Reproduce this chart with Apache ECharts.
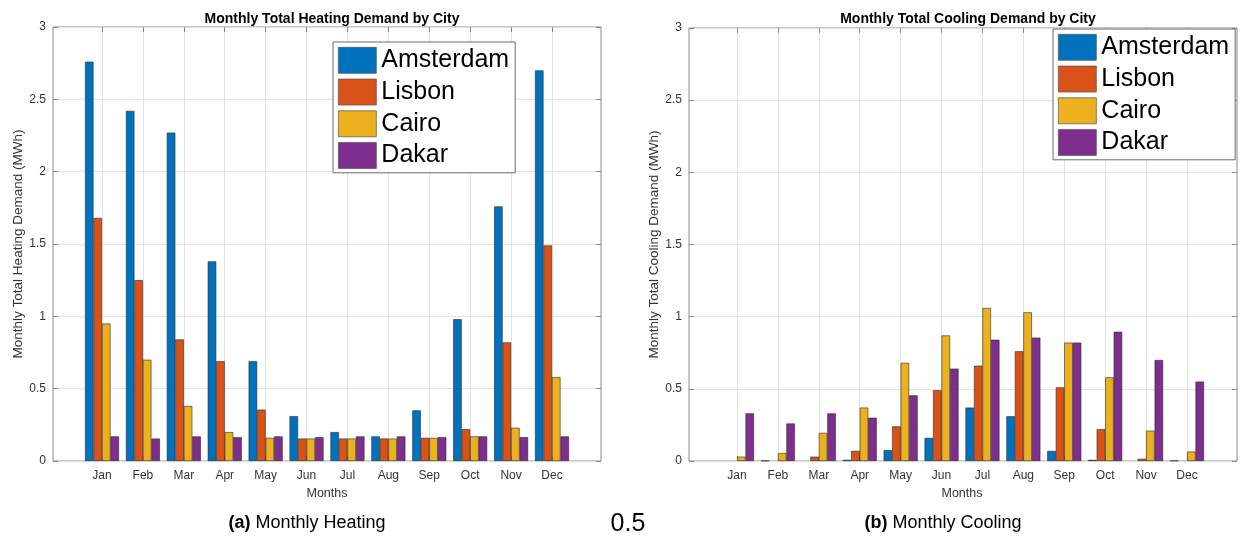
<!DOCTYPE html>
<html>
<head>
<meta charset="utf-8">
<script src="https://cdn.jsdelivr.net/npm/echarts@6/dist/echarts.min.js"></script>
<style>
html,body{margin:0;padding:0;background:#fff;}
#c{width:1244px;height:538px;}
</style>
</head>
<body>
<div id="c"></div>
<script>
const months = ['Jan','Feb','Mar','Apr','May','Jun','Jul','Aug','Sep','Oct','Nov','Dec'];
const cities = ['Amsterdam','Lisbon','Cairo','Dakar'];

// Heating demand (MWh)
const heatAmsterdam = [2.76, 2.42, 2.27, 1.38, 0.69, 0.31, 0.20, 0.17, 0.35, 0.98, 1.76, 2.70];
const heatLisbon    = [1.68, 1.25, 0.84, 0.69, 0.355, 0.155, 0.155, 0.155, 0.16, 0.22, 0.82, 1.49];
const heatCairo     = [0.95, 0.70, 0.38, 0.20, 0.16, 0.155, 0.155, 0.155, 0.16, 0.17, 0.23, 0.58];
const heatDakar     = [0.17, 0.155, 0.17, 0.165, 0.17, 0.165, 0.17, 0.17, 0.165, 0.17, 0.165, 0.17];

// Cooling demand (MWh)
const coolAmsterdam = [0, 0.003, 0, 0.008, 0.075, 0.16, 0.37, 0.31, 0.07, 0.008, 0, 0.003];
const coolLisbon    = [0, 0, 0.03, 0.07, 0.24, 0.49, 0.66, 0.76, 0.51, 0.22, 0.015, 0];
const coolCairo     = [0.03, 0.055, 0.195, 0.37, 0.68, 0.87, 1.06, 1.03, 0.82, 0.58, 0.21, 0.065];
const coolDakar     = [0.33, 0.26, 0.33, 0.30, 0.455, 0.64, 0.84, 0.855, 0.82, 0.895, 0.70, 0.55];

const colors = ['#0072BD', '#D95319', '#EDB120', '#7E2F8E'];
const heatData = [heatAmsterdam, heatLisbon, heatCairo, heatDakar];
const coolData = [coolAmsterdam, coolLisbon, coolCairo, coolDakar];

const FONT = '"Liberation Sans", Arial, Helvetica, sans-serif';
const gridLineColor = '#e3e3e3';
const frameColor = '#8a8a8a';
const textColor = '#333333';

function frameGrid(left, top, height) {
  return {left: left, top: top, width: 548, height: height, show: true, borderColor: frameColor, borderWidth: 1, backgroundColor: 'transparent'};
}
function barGrid(left, top, height) {
  return {left: left, top: top, width: 450, height: height};
}

const grids = [frameGrid(53, 27, 434), barGrid(102, 27, 434), frameGrid(689, 28, 433), barGrid(737, 28, 433)];

function hiddenX(gi) { return {type: 'value', gridIndex: gi, min: 0, max: 1, show: false}; }
function catX(gi, pos, withLabels, name) {
  return {
    type: 'category', gridIndex: gi, position: pos, data: months, boundaryGap: false,
    axisLine: {show: false},
    axisTick: {show: true, inside: true, length: 5, lineStyle: {color: frameColor}},
    axisLabel: {show: withLabels, color: textColor, fontFamily: FONT, fontSize: 12, margin: 9},
    splitLine: {show: withLabels, lineStyle: {color: gridLineColor, width: 1}},
    name: name || '', nameLocation: 'middle', nameGap: 22,
    nameTextStyle: {color: textColor, fontFamily: FONT, fontSize: 12.5}
  };
}
function labY(gi, name) {
  return {
    type: 'value', gridIndex: gi, position: 'left', min: 0, max: 3, interval: 0.5,
    axisLine: {show: false},
    axisTick: {show: true, inside: true, length: 5, lineStyle: {color: frameColor}},
    axisLabel: {color: textColor, fontFamily: FONT, fontSize: 12, margin: 7},
    splitLine: {show: true, lineStyle: {color: gridLineColor, width: 1}},
    name: name, nameLocation: 'middle', nameGap: 27, nameRotate: 90,
    nameTextStyle: {color: textColor, fontFamily: FONT, fontSize: 13.5}
  };
}
function rightY(gi) {
  return {
    type: 'value', gridIndex: gi, position: 'right', min: 0, max: 3, interval: 0.5,
    axisLine: {show: false},
    axisTick: {show: true, inside: true, length: 5, lineStyle: {color: frameColor}},
    axisLabel: {show: false}, splitLine: {show: false}
  };
}
function hiddenY(gi) { return {type: 'value', gridIndex: gi, min: 0, max: 3, interval: 0.5, show: false, splitLine: {show: false}}; }

const xAxes = [hiddenX(0), catX(1, 'bottom', true, 'Months'), catX(1, 'top', false),
               hiddenX(2), catX(3, 'bottom', true, 'Months'), catX(3, 'top', false)];
const yAxes = [labY(0, 'Monthly Total Heating Demand (MWh)'), rightY(0), hiddenY(1),
               labY(2, 'Monthly Total Cooling Demand (MWh)'), rightY(2), hiddenY(3)];

const series = [];
function addSeries(dataSets, xi, yi) {
  dataSets.forEach(function (vals, k) {
    series.push({
      type: 'bar', name: cities[k], xAxisIndex: xi, yAxisIndex: yi,
      data: vals.map(function (v) { return v === 0 ? {value: v, itemStyle: {borderWidth: 0}} : v; }),
      barWidth: 8.5, barGap: '0%', clip: false,
      itemStyle: {color: colors[k], borderColor: '#2a2a2a', borderWidth: 0.6},
      emphasis: {disabled: true}, animation: false
    });
  });
}
addSeries(heatData, 1, 2);
addSeries(coolData, 4, 5);

function legend(left, top) {
  return {
    data: cities, orient: 'vertical', left: left, top: top,
    itemWidth: 38, itemHeight: 26, itemGap: 5, padding: [5, 6, 4, 5],
    backgroundColor: '#ffffff', borderColor: '#6a6a6a', borderWidth: 1,
    itemStyle: {borderWidth: 0.7, borderColor: '#555555'},
    textStyle: {fontFamily: FONT, fontSize: 25, color: '#000'},
    selectedMode: false, icon: 'rect'
  };
}

const option = {
  animation: false,
  backgroundColor: '#ffffff',
  title: [
    {text: 'Monthly Total Heating Demand by City', left: 327, top: 7, textAlign: 'center',
     textStyle: {fontFamily: FONT, fontSize: 14, fontWeight: 'bold', color: '#000'}},
    {text: 'Monthly Total Cooling Demand by City', left: 963, top: 7, textAlign: 'center',
     textStyle: {fontFamily: FONT, fontSize: 14, fontWeight: 'bold', color: '#000'}}
  ],
  grid: grids,
  xAxis: xAxes,
  yAxis: yAxes,
  legend: [legend(333, 42), legend(1053, 29)],
  series: series,
  graphic: [
    {type: 'text', x: 307, y: 523, style: {text: '{b|(a)} Monthly Heating', textAlign: 'center', textVerticalAlign: 'middle',
      font: '18px ' + FONT, fill: '#000', rich: {b: {fontWeight: 'bold', fontSize: 18, fontFamily: FONT}}}},
    {type: 'text', x: 943, y: 523, style: {text: '{b|(b)} Monthly Cooling', textAlign: 'center', textVerticalAlign: 'middle',
      font: '18px ' + FONT, fill: '#000', rich: {b: {fontWeight: 'bold', fontSize: 18, fontFamily: FONT}}}},
    {type: 'text', x: 628, y: 524, style: {text: '0.5', textAlign: 'center', textVerticalAlign: 'middle',
      font: '25px ' + FONT, fill: '#000'}}
  ]
};

const chart = echarts.init(document.getElementById('c'), null, {renderer: 'canvas'});
chart.setOption(option);
</script>
</body>
</html>
